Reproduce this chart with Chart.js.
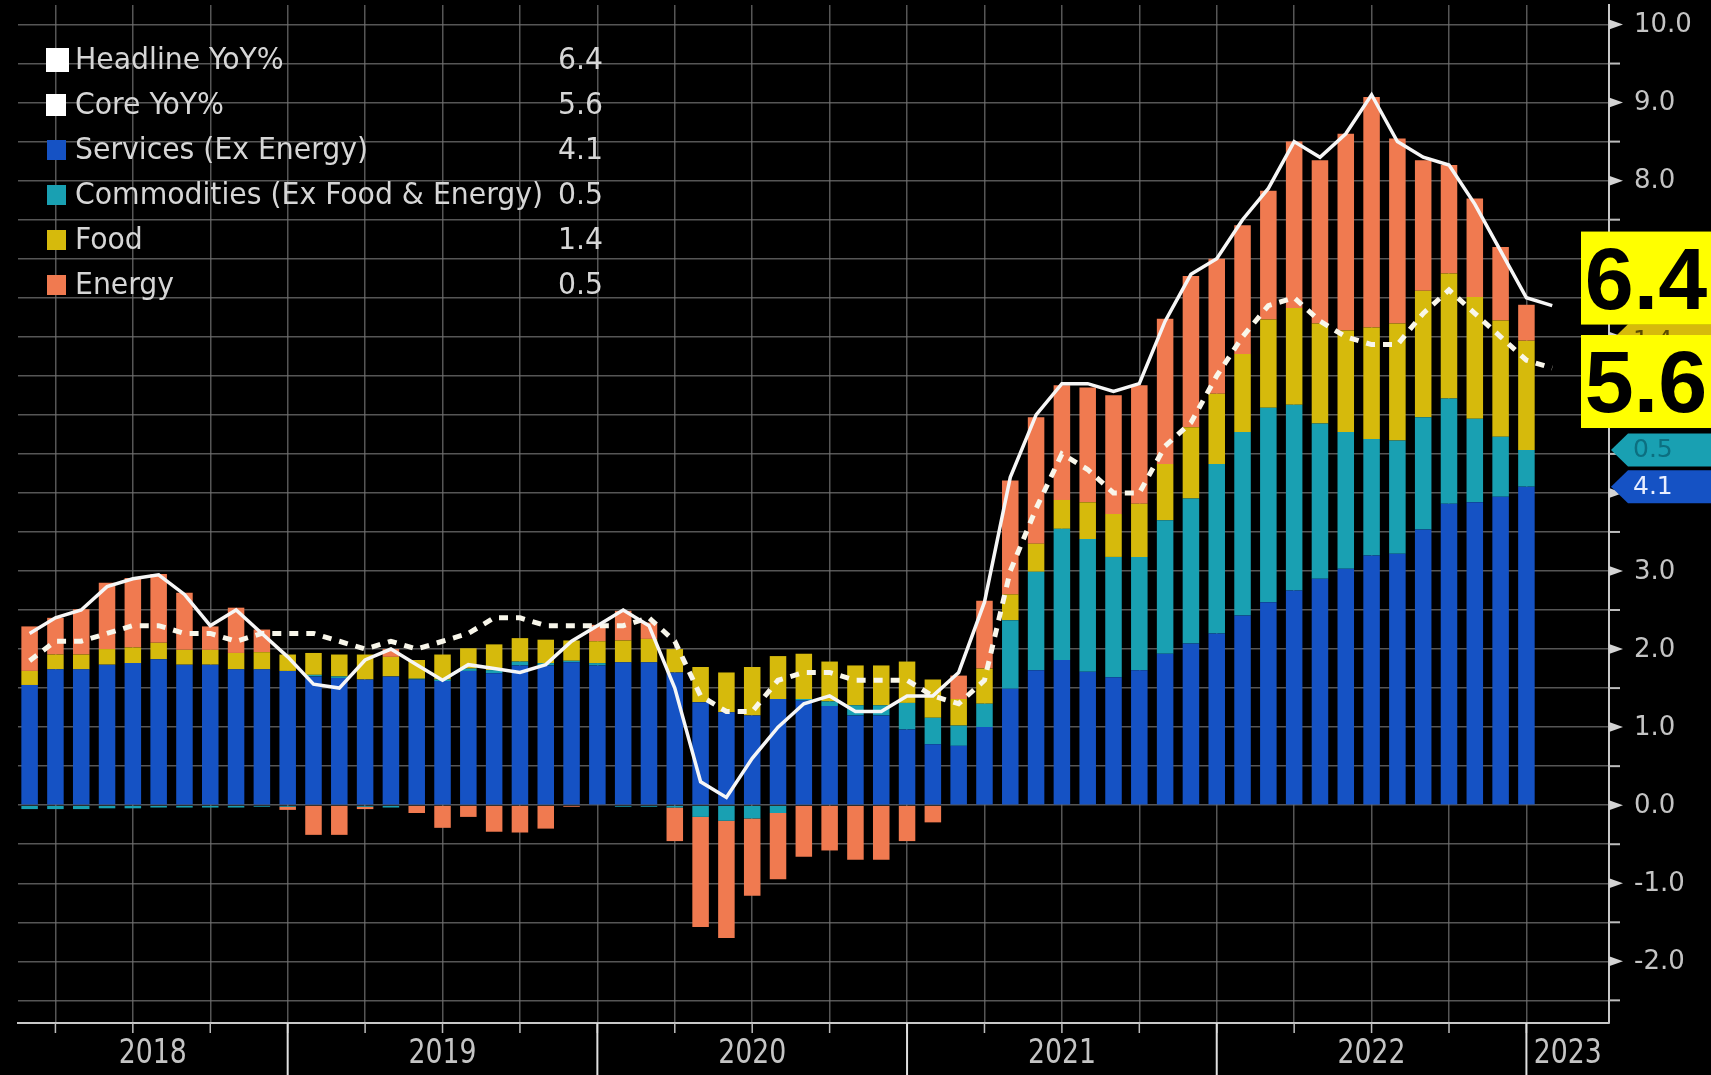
<!DOCTYPE html>
<html>
<head>
<meta charset="utf-8">
<script src="https://cdn.jsdelivr.net/npm/chart.js@4.4.1/dist/chart.umd.min.js"></script>
<style>
    html, body { margin: 0; padding: 0; background: #000; }
    #wrap { width: 1711px; height: 1075px; position: relative; }
</style>
</head>
<body>
<div id="wrap"><canvas id="cpiChart"></canvas></div>
<script>
// Month-end categories, Feb 2018 .. Jan 2023
const categories = [
    'Feb 2018', 'Mar 2018', 'Apr 2018', 'May 2018', 'Jun 2018', 'Jul 2018', 'Aug 2018', 'Sep 2018', 'Oct 2018', 'Nov 2018', 'Dec 2018',
    'Jan 2019', 'Feb 2019', 'Mar 2019', 'Apr 2019', 'May 2019', 'Jun 2019', 'Jul 2019', 'Aug 2019', 'Sep 2019', 'Oct 2019', 'Nov 2019', 'Dec 2019',
    'Jan 2020', 'Feb 2020', 'Mar 2020', 'Apr 2020', 'May 2020', 'Jun 2020', 'Jul 2020', 'Aug 2020', 'Sep 2020', 'Oct 2020', 'Nov 2020', 'Dec 2020',
    'Jan 2021', 'Feb 2021', 'Mar 2021', 'Apr 2021', 'May 2021', 'Jun 2021', 'Jul 2021', 'Aug 2021', 'Sep 2021', 'Oct 2021', 'Nov 2021', 'Dec 2021',
    'Jan 2022', 'Feb 2022', 'Mar 2022', 'Apr 2022', 'May 2022', 'Jun 2022', 'Jul 2022', 'Aug 2022', 'Sep 2022', 'Oct 2022', 'Nov 2022', 'Dec 2022',
    'Jan 2023'
];

// contributions (bars end at Dec 2022)
const services = [
    1.54, 1.74, 1.74, 1.80, 1.82, 1.87, 1.80, 1.80, 1.74, 1.74, 1.72,
    1.65, 1.63, 1.61, 1.65, 1.61, 1.59, 1.72, 1.69, 1.79, 1.79, 1.83, 1.79,
    1.83, 1.83, 1.70, 1.32, 1.19, 1.15, 1.36, 1.34, 1.27, 1.15, 1.15, 0.97,
    0.78, 0.76, 1.00, 1.49, 1.73, 1.86, 1.71, 1.64, 1.73, 1.94, 2.07, 2.20,
    2.43, 2.60, 2.75, 2.90, 3.03, 3.20, 3.22, 3.53, 3.86, 3.88, 3.95, 4.08
];
const commodities = [
    -0.05, -0.05, -0.05, -0.04, -0.04, -0.03, -0.03, -0.03, -0.03, -0.02, -0.02,
    0.02, 0.02, -0.02, -0.03, 0.01, 0.02, 0.03, 0.04, 0.05, 0.03, 0.02, 0.03,
    -0.02, -0.02, -0.03, -0.15, -0.20, -0.17, -0.10, 0.02, 0.06, 0.13, 0.13, 0.34,
    0.34, 0.26, 0.30, 0.88, 1.26, 1.68, 1.70, 1.54, 1.45, 1.71, 1.86, 2.17,
    2.35, 2.49, 2.38, 1.99, 1.75, 1.49, 1.45, 1.44, 1.35, 1.07, 0.77, 0.47
];
const food = [
    0.18, 0.19, 0.19, 0.20, 0.20, 0.21, 0.19, 0.19, 0.21, 0.22, 0.21,
    0.28, 0.28, 0.32, 0.25, 0.24, 0.32, 0.26, 0.33, 0.30, 0.30, 0.26, 0.28,
    0.28, 0.30, 0.30, 0.45, 0.51, 0.62, 0.55, 0.58, 0.51, 0.51, 0.51, 0.53,
    0.49, 0.34, 0.45, 0.33, 0.36, 0.37, 0.47, 0.55, 0.68, 0.72, 0.91, 0.90,
    1.00, 1.13, 1.24, 1.28, 1.30, 1.43, 1.50, 1.62, 1.60, 1.56, 1.49, 1.40
];
const energy = [
    0.57, 0.47, 0.58, 0.85, 0.89, 0.88, 0.73, 0.30, 0.58, 0.29, -0.04,
    -0.38, -0.38, -0.03, 0.10, -0.10, -0.29, -0.15, -0.34, -0.35, -0.30, -0.02, 0.21,
    0.38, 0.21, -0.43, -1.41, -1.50, -0.99, -0.85, -0.66, -0.58, -0.70, -0.70, -0.46,
    -0.22, 0.30, 0.87, 1.46, 1.62, 1.47, 1.47, 1.52, 1.52, 1.86, 1.94, 1.73,
    1.65, 1.65, 2.13, 2.09, 2.52, 2.95, 2.37, 1.67, 1.39, 1.26, 0.94, 0.46
];

// YoY %, through Jan 2023
const headline = [
    2.2, 2.4, 2.5, 2.8, 2.9, 2.95, 2.7, 2.3, 2.5, 2.2, 1.9,
    1.55, 1.5, 1.86, 2.0, 1.8, 1.6, 1.8, 1.75, 1.7, 1.8, 2.1, 2.3,
    2.5, 2.3, 1.5, 0.3, 0.1, 0.6, 1.0, 1.3, 1.4, 1.2, 1.2, 1.4,
    1.4, 1.7, 2.6, 4.2, 5.0, 5.4, 5.4, 5.3, 5.4, 6.2, 6.8, 7.0,
    7.5, 7.9, 8.5, 8.3, 8.6, 9.1, 8.5, 8.3, 8.2, 7.7, 7.1, 6.5,
    6.4
];
const core = [
    1.85, 2.1, 2.1, 2.2, 2.3, 2.3, 2.2, 2.2, 2.1, 2.2, 2.2,
    2.2, 2.1, 2.0, 2.1, 2.0, 2.1, 2.2, 2.4, 2.4, 2.3, 2.3, 2.3,
    2.3, 2.4, 2.1, 1.4, 1.2, 1.2, 1.6, 1.7, 1.7, 1.6, 1.6, 1.6,
    1.4, 1.3, 1.6, 3.0, 3.8, 4.5, 4.3, 4.0, 4.0, 4.6, 4.9, 5.5,
    6.0, 6.4, 6.5, 6.2, 6.0, 5.9, 5.9, 6.3, 6.6, 6.3, 6.0, 5.7,
    5.6
];

const yearLabels = ['2018', '2019', '2020', '2021', '2022', '2023'];
const yTickValues = [-2, -1, 0, 1, 2, 3, 4, 5, 6, 7, 8, 9, 10];
const legendNames = ['Headline YoY%', 'Core YoY%', 'Services (Ex Energy)', 'Commodities (Ex Food & Energy)', 'Food', 'Energy'];

const colors = {
    services: '#1552c4',
    commodities: '#19a0b2',
    food: '#d6ba0c',
    energy: '#f07a50',
    grid: 'rgba(115,115,115,0.75)',
    text: '#c4c4c4'
};

const X_MIN = -0.45, X_MAX = 61.2, Y_MIN = -2.79, Y_MAX = 10.25;

// quarter ends and year ends come from the category names
const quarterTicks = [];
const yearBreaks = [];
categories.forEach((c, i) => {
    if (/^(Mar|Jun|Sep|Dec)/.test(c)) quarterTicks.push(i);
    if (/^Dec/.test(c)) yearBreaks.push(i);
});

const toXY = arr => arr.map((v, i) => ({x: i, y: v}));
const last = arr => arr[arr.length - 1];

function barSet(label, data, color) {
    return {
        type: 'bar', label: label, data: toXY(data),
        backgroundColor: color, borderWidth: 0,
        categoryPercentage: 1, barPercentage: 0.64, order: 2
    };
}

function fitText(ctx, text, x, y, sx, align) {
    ctx.save();
    ctx.translate(x, y);
    ctx.scale(sx, 1);
    ctx.textAlign = align;
    ctx.fillText(text, 0, 0);
    ctx.restore();
}

const decor = {
    id: 'decor',
    afterDraw(chart) {
        const ctx = chart.ctx, a = chart.chartArea;
        const xs = chart.scales.x, ys = chart.scales.y;
        const W = chart.width, H = chart.height;
        ctx.save();

        // right axis markers and labels
        ctx.fillStyle = '#d4d4d4';
        ctx.strokeStyle = '#bdbdbd';
        ctx.lineWidth = 2;
        for (let v = -2.5; v <= 10; v += 0.5) {
            const py = ys.getPixelForValue(v);
            if (Number.isInteger(v)) {
                ctx.beginPath();
                ctx.moveTo(a.right, py - 5);
                ctx.lineTo(a.right + 14, py);
                ctx.lineTo(a.right, py + 5);
                ctx.closePath();
                ctx.fill();
            } else {
                ctx.beginPath();
                ctx.moveTo(a.right, py);
                ctx.lineTo(a.right + 11, py);
                ctx.stroke();
            }
        }
        ctx.fillStyle = colors.text;
        ctx.font = '26px "DejaVu Sans", sans-serif';
        ctx.textAlign = 'left';
        ctx.textBaseline = 'middle';
        yTickValues.forEach(v => {
            ctx.fillText(v.toFixed(1), a.right + 25, ys.getPixelForValue(v) + 1);
        });

        // bottom axis ticks
        ctx.strokeStyle = '#bdbdbd';
        ctx.lineWidth = 1.5;
        quarterTicks.forEach(q => {
            const px = xs.getPixelForValue(q);
            ctx.beginPath();
            ctx.moveTo(px, a.bottom);
            ctx.lineTo(px, a.bottom + 10);
            ctx.stroke();
        });
        ctx.strokeStyle = '#e0e0e0';
        ctx.lineWidth = 2;
        yearBreaks.forEach(q => {
            const px = xs.getPixelForValue(q);
            ctx.beginPath();
            ctx.moveTo(px, a.bottom);
            ctx.lineTo(px, H);
            ctx.stroke();
        });

        // year labels
        ctx.fillStyle = colors.text;
        ctx.font = '34px "DejaVu Sans Condensed", "DejaVu Sans", sans-serif';
        ctx.textBaseline = 'middle';
        const ySx = 68 / ctx.measureText('2018').width;
        const edges = [X_MIN].concat(yearBreaks, [X_MAX]);
        yearLabels.forEach((lab, i) => {
            const mid = (edges[i] + edges[i + 1]) / 2;
            fitText(ctx, lab, xs.getPixelForValue(mid), a.bottom + 31, ySx, 'center');
        });

        // legend
        const legendValues = [last(headline), last(core), last(services), last(commodities), last(food), last(energy)]
            .map(v => v.toFixed(1));
        const swatches = ['#ffffff', '#ffffff', colors.services, colors.commodities, colors.food, colors.energy];
        ctx.font = '30px "DejaVu Sans Condensed", "DejaVu Sans", sans-serif';
        const lSx = 468 / ctx.measureText(legendNames[3]).width;
        legendNames.forEach((name, i) => {
            const ry = 60 + i * 45;
            ctx.fillStyle = swatches[i];
            if (i === 0) {
                ctx.fillRect(46, ry - 12, 23, 24);
            } else if (i === 1) {
                ctx.fillRect(46, ry - 11, 20, 22);
            } else {
                ctx.fillRect(47, ry - 10, 19, 20);
            }
            ctx.fillStyle = '#d6d6d6';
            fitText(ctx, name, 75, ry + 1, lSx, 'left');
            fitText(ctx, legendValues[i], 603, ry + 1, lSx, 'right');
        });

        // right-hand value tags
        function tag(value, fill, text, textColor) {
            const py = ys.getPixelForValue(value);
            const h = 33, x0 = a.right + 2;
            ctx.fillStyle = fill;
            ctx.beginPath();
            ctx.moveTo(x0, py);
            ctx.lineTo(x0 + 17, py - h / 2);
            ctx.lineTo(W, py - h / 2);
            ctx.lineTo(W, py + h / 2);
            ctx.lineTo(x0 + 17, py + h / 2);
            ctx.closePath();
            ctx.fill();
            ctx.fillStyle = textColor;
            ctx.font = '25px "DejaVu Sans", sans-serif';
            ctx.textAlign = 'left';
            ctx.fillText(text, x0 + 22, py + 1);
        }
        const n = services.length - 1;
        const sTop = services[n];
        const cTop = sTop + commodities[n];
        const fTop = cTop + food[n];
        const eTop = fTop + energy[n];
        tag(eTop, colors.energy, energy[n].toFixed(1), '#5a2a10');
        tag(fTop, colors.food, food[n].toFixed(1), '#5a4a00');
        tag(cTop, colors.commodities, commodities[n].toFixed(1), '#0c6f80');
        tag(sTop, colors.services, services[n].toFixed(1), '#e8eeff');

        // yellow call-out boxes
        function callout(cy, text) {
            ctx.fillStyle = '#ffff00';
            ctx.fillRect(1581, cy - 46, W - 1581, 93);
            ctx.fillStyle = '#000';
            ctx.font = 'bold 88px "Liberation Sans", Arial, sans-serif';
            ctx.textAlign = 'center';
            ctx.textBaseline = 'alphabetic';
            ctx.fillText(text, 1646, cy + 31);
        }
        callout(ys.getPixelForValue(last(headline)) - 28, last(headline).toFixed(1));
        callout(ys.getPixelForValue(last(core)) + 13, last(core).toFixed(1));

        ctx.restore();
    }
};

const ctx = document.getElementById('cpiChart');
new Chart(ctx, {
    type: 'bar',
    data: {
        datasets: [
            {
                type: 'line', label: legendNames[0], data: toXY(headline), yAxisID: 'yl',
                borderColor: '#f6f6f6', borderWidth: 3.5, pointRadius: 0, tension: 0, order: 0
            },
            {
                type: 'line', label: legendNames[1], data: toXY(core), yAxisID: 'yl',
                borderColor: '#f8f6ea', borderWidth: 5, borderDash: [9, 8], pointRadius: 0, tension: 0, order: 1
            },
            barSet(legendNames[2], services, colors.services),
            barSet(legendNames[3], commodities, colors.commodities),
            barSet(legendNames[4], food, colors.food),
            barSet(legendNames[5], energy, colors.energy)
        ]
    },
    options: {
        responsive: true,
        maintainAspectRatio: false,
        animation: false,
        devicePixelRatio: 1,
        layout: {padding: {left: 18, top: 5, right: 0, bottom: 0}},
        plugins: {
            legend: {display: false},
            tooltip: {enabled: false}
        },
        scales: {
            x: {
                type: 'linear', min: X_MIN, max: X_MAX, stacked: true, offset: false,
                grid: {color: colors.grid, lineWidth: 1.5, drawTicks: false, offset: false},
                border: {display: true, color: '#c8c8c8', width: 2},
                ticks: {display: false},
                afterBuildTicks: s => { s.ticks = quarterTicks.map(v => ({value: v})); },
                afterFit: s => { s.height = 52; }
            },
            y: {
                position: 'right', min: Y_MIN, max: Y_MAX, stacked: true,
                grid: {color: colors.grid, lineWidth: 1.5, drawTicks: false},
                border: {display: true, color: '#c8c8c8', width: 2},
                ticks: {display: false},
                afterBuildTicks: s => {
                    const t = [];
                    for (let v = -2.5; v <= 10; v += 0.5) t.push({value: v});
                    s.ticks = t;
                },
                afterFit: s => { s.width = 102; }
            },
            yl: {display: false, min: Y_MIN, max: Y_MAX}
        }
    },
    plugins: [decor]
});
</script>
</body>
</html>
